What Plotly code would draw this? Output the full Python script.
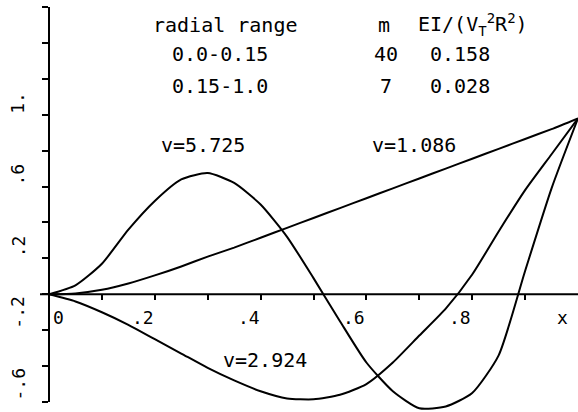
import plotly.graph_objects as go

# Radial station (fraction of span)
x_station = [0.0, 0.05, 0.10, 0.15, 0.20, 0.25, 0.30, 0.35, 0.40, 0.45, 0.50,
             0.55, 0.60, 0.65, 0.70, 0.75, 0.80, 0.85, 0.90, 0.95, 1.0]

# Mode shapes for the three rotating natural frequencies
mode_v1086 = [0.0, 0.005, 0.025, 0.06, 0.105, 0.155, 0.21, 0.26, 0.315, 0.37, 0.425,
              0.48, 0.535, 0.59, 0.645, 0.70, 0.755, 0.81, 0.865, 0.92, 0.98]
mode_v2924 = [0.0, -0.04, -0.10, -0.17, -0.25, -0.33, -0.41, -0.48, -0.54, -0.58, -0.585,
              -0.56, -0.50, -0.38, -0.23, -0.08, 0.11, 0.35, 0.58, 0.78, 0.98]
mode_v5725 = [0.0, 0.05, 0.17, 0.36, 0.52, 0.64, 0.675, 0.62, 0.50, 0.32, 0.09,
              -0.15, -0.38, -0.54, -0.635, -0.625, -0.55, -0.34, 0.13, 0.59, 0.98]

# Axis tick positions and labels
y_ticks = [-0.6, -0.4, -0.2, 0.0, 0.2, 0.4, 0.6, 0.8, 1.0, 1.2, 1.4, 1.6]
y_label_vals = [-0.6, -0.2, 0.2, 0.6, 1.0]
y_label_text = ["-.6", "-.2", ".2", ".6", "1."]
x_ticks = [0.1, 0.2, 0.3, 0.4, 0.5, 0.6, 0.7, 0.8, 0.9]
x_label_vals = [0.2, 0.4, 0.6, 0.8]
x_label_text = [".2", ".4", ".6", ".8"]

# Property table
table_ranges = ["0.0-0.15", "0.15-1.0"]
table_m = ["40", "7"]
table_ei = ["0.158", "0.028"]

W, H = 578, 412
L, R, T, B = 49, 0, 7, 0
Y_TOP = 1.6
PX_PER_UNIT = 395 / 2.2
Y_BOT = Y_TOP - (H - T - B) / PX_PER_UNIT

FAMILY = "DejaVu Sans Mono"
INK = "black"
FONT = dict(family=FAMILY, size=20, color=INK)
TICK_FONT = dict(family=FAMILY, size=18, color=INK)

fig = go.Figure()
for ys in (mode_v1086, mode_v2924, mode_v5725):
    fig.add_trace(go.Scatter(
        x=x_station, y=ys, mode="lines",
        line=dict(color=INK, width=2, shape="spline", smoothing=0.6),
        hoverinfo="skip", showlegend=False,
    ))

zero_pos = (0 - Y_BOT) / (Y_TOP - Y_BOT)

fig.update_layout(
    width=W, height=H,
    margin=dict(l=L, r=R, t=T, b=B, pad=0),
    paper_bgcolor="white", plot_bgcolor="white",
    showlegend=False,
    xaxis=dict(
        range=[0, 1.0], showgrid=False, zeroline=False, showline=False,
        anchor="free", position=zero_pos,
        tickmode="array", tickvals=x_ticks, ticks="outside",
        ticklen=5, tickwidth=1.5, tickcolor=INK, showticklabels=False,
    ),
    yaxis=dict(
        range=[Y_BOT, Y_TOP], showgrid=False, zeroline=False, showline=False,
        tickmode="array", tickvals=y_ticks, ticks="outside",
        ticklen=6, tickwidth=2, tickcolor=INK, showticklabels=False,
    ),
)

# Axis lines
fig.add_shape(type="line", xref="paper", yref="y", x0=-9 / 529, x1=1.0, y0=0, y1=0,
              line=dict(color=INK, width=2.2))
fig.add_shape(type="line", xref="paper", yref="y", x0=0, x1=0, y0=-0.6, y1=Y_TOP,
              line=dict(color=INK, width=2))


def px_x(p):
    return (p - L) / (W - L - R)


def px_y(p):
    return (H - B - p) / (H - T - B)


def y_of_px(p):
    return Y_TOP - (p - T) / PX_PER_UNIT


def label(text, xp, yp, font=FONT, **kw):
    """Text centred on a pixel position of the page."""
    fig.add_annotation(x=px_x(xp), xref="paper", y=px_y(yp), yref="paper",
                       text=text, xanchor="center", yanchor="middle",
                       showarrow=False, font=font, **kw)


# y tick labels, rotated, starting at their tick
for v, t in zip(y_label_vals, y_label_text):
    fig.add_annotation(x=px_x(18), xref="paper", y=v, yref="y", text=t,
                       textangle=-90, xanchor="center", yanchor="bottom",
                       showarrow=False, font=TICK_FONT, borderpad=0)

# x tick labels, ending at their tick
x_lab_y = y_of_px(317)
for v, t in zip(x_label_vals, x_label_text):
    fig.add_annotation(x=v, xref="x", y=x_lab_y, yref="y", text=t,
                       xanchor="right", yanchor="middle", showarrow=False,
                       font=TICK_FONT, borderpad=0)
fig.add_annotation(x=0.006, xref="x", y=x_lab_y, yref="y", text="0",
                   xanchor="left", yanchor="middle", showarrow=False,
                   font=TICK_FONT, borderpad=0)
fig.add_annotation(x=0.97, xref="x", y=x_lab_y, yref="y", text="x",
                   xanchor="center", yanchor="middle", showarrow=False,
                   font=TICK_FONT, borderpad=0)

# Curve labels
label("v=5.725", 203, 145)
label("v=1.086", 414, 145)
label("v=2.924", 265, 360)

# Property table header
HEAD_Y, ROW_Y = 25, (54, 86)
label("radial range", 225, HEAD_Y)
label("m", 384, HEAD_Y)
fig.add_annotation(x=px_x(417), xref="paper", y=px_y(HEAD_Y), yref="paper",
                   text="EI/(V<sub>T</sub><sup>2</sup>R<sup>2</sup>)",
                   xanchor="left", yanchor="middle", showarrow=False, font=FONT,
                   borderpad=0)

# Property table rows
for i, yp in enumerate(ROW_Y):
    label(table_ranges[i], 220, yp)
    label(table_m[i], 386, yp)
    label(table_ei[i], 460, yp)

fig.write_html("out.html")
